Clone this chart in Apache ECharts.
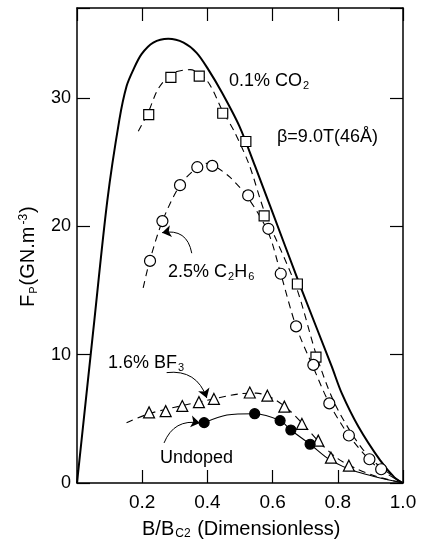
<!DOCTYPE html>
<html><head><meta charset="utf-8">
<script src="https://cdn.jsdelivr.net/npm/echarts@6/dist/echarts.min.js"></script>
<style>html,body{margin:0;padding:0;background:#fff}#c{width:425px;height:543px}</style>
</head><body><div id="c"></div>
<script>
// ---- data ----
const xTickLabels = ['', '0.2', '0.4', '0.6', '0.8', '1.0'];
const yTickLabels = ['0', '10', '20', '30'];

// theoretical curve, beta = 9.0T (46 Å)
const theoryCurve = [[0,0],[0.05,11.9],[0.093,22.0],[0.13,28.3],[0.152,30.9],[0.173,32.2],[0.198,33.4],[0.234,34.3],[0.28,34.6],[0.327,34.3],[0.367,33.5],[0.403,32.2],[0.445,30.4],[0.498,27.8],[0.546,24.7],[0.592,21.6],[0.684,15.4],[0.781,9.1],[0.812,7.0],[0.863,4.4],[0.929,1.8],[0.975,0.4],[1,0]];

// 0.1% CO2
const co2Points = [[0.220,28.7],[0.288,31.6],[0.375,31.7],[0.447,28.8],[0.518,26.6],[0.574,20.8],[0.676,15.5],[0.733,9.8]];
const co2Fit = [[0.188,27.4],[0.219,28.9],[0.249,30.7],[0.292,31.9],[0.347,32.2],[0.40,31.3],[0.446,29.0],[0.482,27.4],[0.528,24.8],[0.577,21.0],[0.672,15.3],[0.735,9.9],[0.785,6.5],[0.844,3.8],[0.905,1.8],[1,0]];

// 2.5% C2H6
const c2h6Points = [[0.224,17.3],[0.262,20.4],[0.316,23.2],[0.369,24.6],[0.415,24.7],[0.525,22.4],[0.587,19.8],[0.625,16.3],[0.672,12.2],[0.725,9.2],[0.774,6.2],[0.834,3.7],[0.897,1.85],[0.933,1.07]];
const c2h6Fit = [[0.203,15.2],[0.224,17.4],[0.262,20.4],[0.316,23.2],[0.369,24.6],[0.395,24.9],[0.415,24.8],[0.47,23.8],[0.525,22.2],[0.587,19.5],[0.625,16.3],[0.672,12.2],[0.725,9.0],[0.774,6.2],[0.834,3.7],[0.897,1.8],[0.933,1.0],[1,0]];

// 1.6% BF3
const bf3Points = [[0.221,5.5],[0.272,5.6],[0.323,6.0],[0.374,6.3],[0.420,6.55],[0.530,7.05],[0.584,6.8],[0.636,5.95],[0.690,4.6],[0.740,3.3],[0.779,1.97],[0.834,1.35]];
const bf3Fit = [[0.152,4.7],[0.221,5.4],[0.30,5.9],[0.40,6.45],[0.50,6.95],[0.55,7.0],[0.60,6.6],[0.65,5.7],[0.70,4.4],[0.75,3.0],[0.80,1.9],[0.85,1.2],[0.92,0.5],[1,0]];

// Undoped
const undopedPoints = [[0.390,4.7],[0.545,5.4],[0.623,4.86],[0.656,4.13],[0.715,3.02]];
const undopedFit = [[0.39,4.7],[0.46,5.3],[0.545,5.4],[0.623,4.86],[0.656,4.13],[0.715,3.02],[0.776,1.8],[0.858,0.88],[1,0]];

// annotation arrows (start -> end)
const arrowC2H6 = [[0.352,17.9],[0.261,19.5]];
const arrowBF3 = [[0.275,8.6],[0.398,6.63]];
const arrowUndoped = [[0.267,3.12],[0.377,4.68]];

// ---- chart ----
const FONT = '"Liberation Sans", Arial, Helvetica, sans-serif';
const chart = echarts.init(document.getElementById('c'), null, {renderer: 'canvas'});
const axisCommon = {
  type: 'value',
  axisLine: {show: true, onZero: false, lineStyle: {color: '#000', width: 1.5}},
  axisTick: {show: true, inside: true, length: 13, lineStyle: {color: '#000', width: 1.2}},
  splitLine: {show: false}
};
const subRich = {
  sub: {fontSize: 11, fontFamily: FONT, verticalAlign: 'bottom', padding: [9, 0, 0, 1], fill: '#000'},
  sup: {fontSize: 11, fontFamily: FONT, verticalAlign: 'top', padding: [0, 0, 8, 1], fill: '#000'}
};
function txt(text, x, y, size, extra) {
  return {
    type: 'text', x: x, y: y, silent: true,
    style: Object.assign({text: text, fill: '#000', font: size + 'px ' + FONT, rich: subRich}, extra || {})
  };
}
function arrow(coords, curv) {
  return {
    type: 'lines', coordinateSystem: 'cartesian2d', xAxisIndex: 0, yAxisIndex: 0,
    symbol: ['none', 'arrow'], symbolSize: [6, 9], silent: true, z: 5,
    lineStyle: {color: '#000', width: 1, curveness: curv, opacity: 1},
    data: [{coords: coords}]
  };
}
function fit(data, dashed, width) {
  return {
    type: 'line', data: data, showSymbol: false, smooth: 0.3, silent: true, z: 3,
    lineStyle: {color: '#000', width: width, type: dashed ? [7, 5] : 'solid'}
  };
}
function pts(data, symbol, size, fill) {
  return {
    type: 'scatter', data: data, symbol: symbol, symbolSize: size, silent: true, z: 6,
    itemStyle: {color: fill, borderColor: '#000', borderWidth: 1.2, opacity: 1}
  };
}
chart.setOption({
  animation: false,
  backgroundColor: '#fff',
  grid: {left: 77, right: 22, top: 8, bottom: 60, containLabel: false},
  xAxis: [
    Object.assign({}, axisCommon, {position: 'bottom', min: 0, max: 1, interval: 0.2,
      axisLabel: {show: true, margin: 10, color: '#000', fontSize: 19, fontFamily: FONT,
        formatter: function (v) { return xTickLabels[Math.round(v / 0.2)] || ''; }}}),
    Object.assign({}, axisCommon, {position: 'top', min: 0, max: 1, interval: 0.2, axisLabel: {show: false}})
  ],
  yAxis: [
    Object.assign({}, axisCommon, {position: 'left', min: 0, max: 37, interval: 10,
      axisLabel: {show: true, margin: 6, color: '#000', fontSize: 18, fontFamily: FONT,
        formatter: function (v) { return (v % 10 === 0 && v <= 30) ? yTickLabels[v / 10] : ''; }}}),
    Object.assign({}, axisCommon, {position: 'right', min: 0, max: 37, interval: 10, axisLabel: {show: false}})
  ],
  series: [
    fit(theoryCurve, false, 2),
    fit(co2Fit, true, 1.1),
    fit(c2h6Fit, true, 1.1),
    fit(bf3Fit, true, 1.1),
    fit(undopedFit, false, 1.1),
    pts(co2Points, 'rect', 10, '#fff'),
    pts(c2h6Points, 'circle', 11, '#fff'),
    pts(bf3Points, 'triangle', 11, '#fff'),
    pts(undopedPoints, 'circle', 10, '#000'),
    arrow(arrowC2H6, -0.5),
    arrow(arrowBF3, 0.4),
    arrow(arrowUndoped, 0.4)
  ],
  graphic: [
    txt('0.1% CO{sub|2}', 229, 71, 18),
    txt('β=9.0T(46Å)', 277, 128, 18),
    txt('2.5% C{sub|2}H{sub|6}', 168, 262, 18),
    txt('1.6% BF{sub|3}', 108, 353, 18),
    txt('Undoped', 160, 449, 18),
    txt('B/B{sub|C2} (Dimensionless)', 142, 518, 20, {rich: {sub: {fontSize: 12, fontFamily: FONT, verticalAlign: 'bottom', padding: [10, 1, 0, 1], fill: '#000'}}}),
    {type: 'text', x: 18, y: 307, rotation: Math.PI / 2, silent: true,
      style: {text: 'F{sub|P}(GN.m{sup|-3})', fill: '#000', font: '20px ' + FONT,
        rich: {sub: {fontSize: 11, fontFamily: FONT, verticalAlign: 'bottom', padding: [10, 1, 0, 1], fill: '#000'},
               sup: {fontSize: 12, fontFamily: FONT, verticalAlign: 'top', padding: [0, 1, 9, 2], fill: '#000'}}}}
  ]
});
</script></body></html>
